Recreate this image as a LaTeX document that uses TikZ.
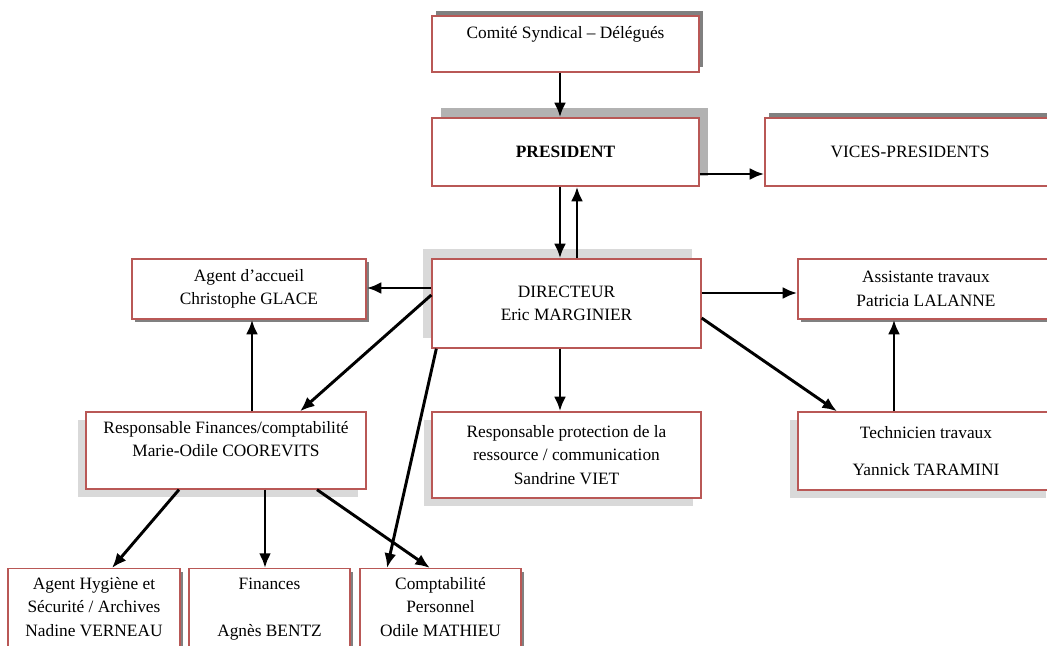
\documentclass[tikz,border=0pt]{standalone}
\usepackage{fontspec}
\setmainfont{Liberation Serif}
\usetikzlibrary{arrows.meta, shadows}

\definecolor{boxred}{RGB}{185,88,86}
\definecolor{shdark}{RGB}{128,128,128}
\definecolor{shmid}{RGB}{178,178,178}
\definecolor{shlight}{RGB}{217,217,217}

\tikzset{
  unit/.style={draw=boxred, line width=1pt, fill=white, align=center, inner sep=2pt,
    font=\fontsize{13pt}{17.6pt}\selectfont},
  shad/.style n args={3}{general shadow={fill=#1, shadow xshift=#2, shadow yshift=#3}},
  link/.style={line width=2.2pt, -{Latex[length=11pt,width=9pt]}}
}

\begin{document}
\begin{tikzpicture}[x=0.75pt, y=-0.75pt]

    \useasboundingbox (0,0) rectangle (1047,646);
    \clip (0,0) rectangle (1047,646);
    \fill[white] (0,0) rectangle (1047,646);

    % Top: committee and president
    \node[unit, shad={shdark}{3pt}{3.75pt}, minimum width=200.25pt, minimum height=42pt]
      (comite) at (565.5,44) {Comité Syndical – Délégués\\ ~};
    \node[unit, shad={shmid}{6.75pt}{7.5pt}, minimum width=200.25pt, minimum height=51pt]
      (pres) at (565.5,152) {\textbf{PRESIDENT}};
    \node[unit, shad={shdark}{3pt}{3.75pt}, minimum width=217.5pt, minimum height=51pt]
      (vices) at (910,152) {VICES-PRESIDENTS};

    % Middle row: director level
    \node[unit, shad={shlight}{-6.75pt}{7.5pt}, minimum width=201.75pt, minimum height=66.75pt]
      (dir) at (566.5,303.5) {DIRECTEUR\\ Eric MARGINIER};
    \node[unit, shad={shdark}{2.25pt}{-2.25pt}, minimum width=175.5pt, minimum height=45pt]
      (accueil) at (249,289) {Agent d’accueil\\ Christophe GLACE};
    \node[unit, shad={shdark}{2.25pt}{-2.25pt}, minimum width=192pt, minimum height=45pt]
      (assist) at (926,289) {Assistante travaux\\ Patricia LALANNE};

    % Lower row
    \node[unit, shad={shlight}{-6pt}{-6pt}, minimum width=210pt, minimum height=57.75pt]
      (rfin) at (226,450.5) {Responsable Finances/comptabilité\\ Marie-Odile COOREVITS\\ ~};
    \node[unit, shad={shlight}{-6pt}{-6pt}, minimum width=201.75pt, minimum height=64.5pt]
      (rprot) at (566.5,455) {Responsable protection de la\\ ressource / communication\\ Sandrine VIET};
    \node[unit, shad={shlight}{-6pt}{-6pt}, minimum width=192pt, minimum height=58.5pt]
      (tech) at (926,451) {Technicien travaux\\[10pt] Yannick TARAMINI};

    % Bottom row (cut by the page edge)
    \node[unit, shad={shdark}{2.25pt}{-2.25pt}, anchor=north, minimum width=129pt, minimum height=75pt]
      (hyg) at (94,568) {Agent Hygiène et\\ Sécurité / Archives\\ Nadine VERNEAU\\ ~};
    \node[unit, shad={shdark}{2.25pt}{-2.25pt}, anchor=north, minimum width=120.75pt, minimum height=75pt]
      (fin) at (269.5,568) {Finances\\ ~\\ Agnès BENTZ\\ ~};
    \node[unit, shad={shdark}{2.25pt}{-2.25pt}, anchor=north, minimum width=120.75pt, minimum height=75pt]
      (compta) at (440.5,568) {Comptabilité\\ Personnel\\ Odile MATHIEU\\ ~};

    % Links
    \draw[link] ([xshift=-4.125pt]comite.south) -- ([xshift=-4.125pt]pres.north);
    \draw[link] ([yshift=-16.5pt]pres.east) -- ([yshift=-16.5pt]vices.west);
    \draw[link] ([xshift=-4.125pt]pres.south) -- ([xshift=-4.875pt]dir.north);
    \draw[link] ([xshift=7.875pt]dir.north) -- ([xshift=8.625pt]pres.south);
    \draw[link] ([yshift=11.625pt]dir.west) -- ([yshift=0.75pt]accueil.east);
    \draw[link] ([yshift=6.4pt]dir.west) -- ([xshift=55.5pt]rfin.north);
    \draw[link] ([xshift=3.75pt]dir.south west) -- ([xshift=-40.1pt]compta.north);
    \draw[link] ([xshift=-4.875pt]dir.south) -- ([xshift=-4.875pt]rprot.north);
    \draw[link] ([yshift=7.875pt]dir.east) -- ([yshift=-3pt]assist.west);
    \draw[link] ([yshift=-10.9pt]dir.east) -- ([xshift=-66.75pt]tech.north);
    \draw[link] ([xshift=-24pt]tech.north) -- ([xshift=-24pt]assist.south);
    \draw[link] ([xshift=19.5pt]rfin.north) -- ([xshift=2.25pt]accueil.south);
    \draw[link] ([xshift=-35.25pt]rfin.south) -- ([xshift=13.5pt]hyg.north);
    \draw[link] ([xshift=29.25pt]rfin.south) -- ([xshift=-3.375pt]fin.north);
    \draw[link] ([xshift=68.25pt]rfin.south) -- ([xshift=-7.9pt]compta.north);

\end{tikzpicture}
\end{document}
